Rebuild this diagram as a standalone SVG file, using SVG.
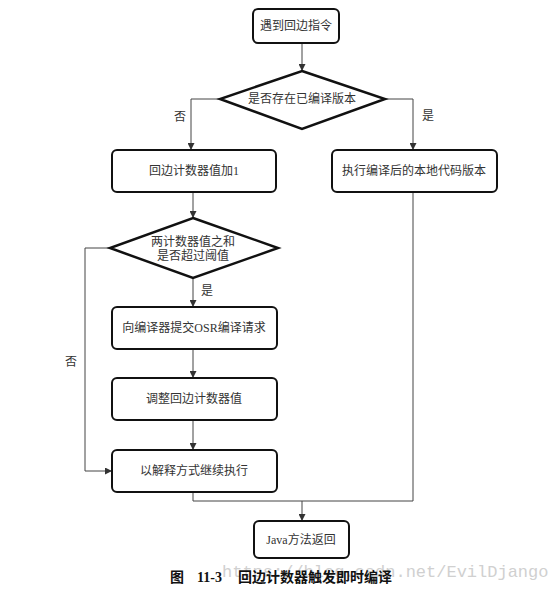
<svg xmlns="http://www.w3.org/2000/svg" width="554" height="591" viewBox="0 0 554 591">
<defs>
<marker id="ah" viewBox="0 0 8 8" refX="8" refY="4" markerWidth="7" markerHeight="7" markerUnits="userSpaceOnUse" orient="auto">
<path d="M0,0 L8,4 L0,8 Z" fill="#333"/>
</marker>
<style>
.box{fill:#fff;stroke:#111;stroke-width:2}
.dia{fill:#fff;stroke:#111;stroke-width:2.5}
.t{font-family:"Liberation Serif","Noto Sans CJK SC",serif;font-size:12px;fill:#333;text-anchor:middle;dominant-baseline:central}
.c{fill:none;stroke:#444;stroke-width:1}
.a{marker-end:url(#ah)}
.lbl{font-family:"Liberation Serif","Noto Sans CJK SC",serif;font-size:12px;fill:#333;text-anchor:middle;dominant-baseline:central}
</style>
</defs>
<rect width="554" height="591" fill="#fff"/>
<g id="connectors">
<path class="c a" d="M302,43 V71"/>
<path class="c a" d="M220,99 H191 V150"/>
<path class="c a" d="M385,99 H413 V150"/>
<path class="c a" d="M193,192 V218"/>
<path class="c a" d="M193,278 V307"/>
<path class="c a" d="M110,248 H85 V471 H112"/>
<path class="c a" d="M193,349 V378"/>
<path class="c a" d="M193,420 V450"/>
<path class="c" d="M193,492 V501 H413 V192"/>
<path class="c a" d="M302,501 V521"/>
<text class="lbl" x="180" y="117">否</text>
<text class="lbl" x="428" y="116">是</text>
<text class="lbl" x="207" y="291">是</text>
<text class="lbl" x="71" y="362">否</text>
</g>
<g id="start"><rect class="box" x="253" y="9" width="86" height="34" rx="5"/><text class="t" x="296" y="26">遇到回边指令</text></g>
<g id="check1"><polygon class="dia" points="302,71 385,99 302,129 220,99"/><text class="t" x="302" y="99">是否存在已编译版本</text></g>
<g id="inc"><rect class="box" x="112" y="150" width="164" height="42" rx="5"/><text class="t" x="194" y="171">回边计数器值加1</text></g>
<g id="native"><rect class="box" x="332" y="150" width="165" height="42" rx="5"/><text class="t" x="414" y="171">执行编译后的本地代码版本</text></g>
<g id="check2"><polygon class="dia" points="193,218 278,248 193,278 110,248"/><text class="t" x="193" y="242">两计数器值之和</text><text class="t" x="193" y="256">是否超过阈值</text></g>
<g id="osr"><rect class="box" x="112" y="307" width="165" height="42" rx="5"/><text class="t" x="194" y="328">向编译器提交OSR编译请求</text></g>
<g id="adjust"><rect class="box" x="112" y="378" width="165" height="42" rx="5"/><text class="t" x="194" y="399">调整回边计数器值</text></g>
<g id="interp"><rect class="box" x="112" y="450" width="165" height="42" rx="5"/><text class="t" x="194" y="471">以解释方式继续执行</text></g>
<g id="ret"><rect class="box" x="254" y="521" width="95" height="37" rx="5"/><text class="t" x="301" y="540">Java方法返回</text></g>
<text x="222" y="577" font-family="Liberation Mono, monospace" font-size="17" fill="#d0d0d0">https://blog.csdn.net/EvilDjango</text>
<text x="170" y="582" font-family="'Noto Sans CJK SC', sans-serif" font-size="14" font-weight="bold" fill="#111">图</text>
<text x="197" y="582" font-family="'Liberation Serif', serif" font-size="14" font-weight="bold" fill="#111">11-3</text>
<text x="238" y="582" font-family="'Noto Sans CJK SC', sans-serif" font-size="14" font-weight="bold" fill="#111">回边计数器触发即时编译</text>
</svg>
